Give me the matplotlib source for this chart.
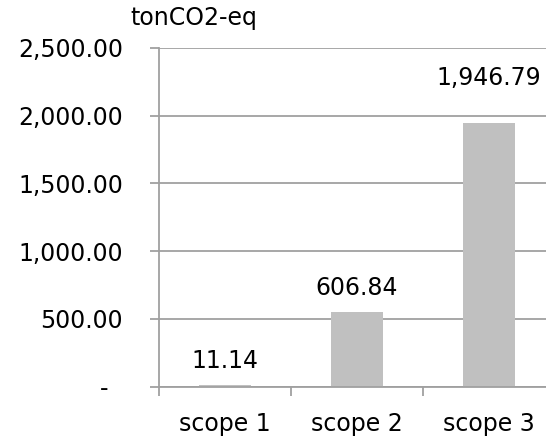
import matplotlib
matplotlib.use('Agg')
import matplotlib.pyplot as plt
from matplotlib.ticker import FixedLocator, FuncFormatter

# data
categories = ['scope 1', 'scope 2', 'scope 3']
bar_values = [11.14, 550.0, 1946.79]          # drawn bar heights
label_texts = ['11.14', '606.84', '1,946.79']  # printed data labels
y_ticks = [0, 500, 1000, 1500, 2000, 2500]

# label baselines above bar tops, in pixels (labels were hand-placed in the source)
label_offsets_px = [17, 17, 38]

c_bar = '#c0c0c0'
c_axis = '#a0a0a0'
fs = 17

fig = plt.figure(figsize=(5.46, 4.43), dpi=100)
ax = fig.add_axes([159 / 546, (443 - 386.7) / 443, 396 / 546, (386.7 - 48) / 443])

x = list(range(len(categories)))
ax.bar(x, bar_values, width=0.394, color=c_bar, zorder=3)

ax.set_xlim(-0.5, len(categories) - 0.5)
ax.set_ylim(0, 2500)

# y axis
ax.yaxis.set_major_locator(FixedLocator(y_ticks))
ax.yaxis.set_major_formatter(FuncFormatter(lambda v, p: '-  ' if v == 0 else f'{v:,.2f}'))
ax.tick_params(axis='y', length=6.5, width=1.3, color=c_axis, pad=19.4, labelsize=fs)
ax.grid(axis='y', color=c_axis, lw=1.3, zorder=1)

# x axis: labels at centres, tick marks at category boundaries
ax.set_xticks(x)
ax.set_xticklabels(categories)
ax.set_xticks([i - 0.5 for i in x], minor=True)
ax.tick_params(axis='x', which='major', length=0, pad=18, labelsize=fs)
ax.tick_params(axis='x', which='minor', length=6.5, width=1.3, color=c_axis)

for s in ['top', 'right']:
    ax.spines[s].set_visible(False)
for s in ['left', 'bottom']:
    ax.spines[s].set_color(c_axis)
    ax.spines[s].set_linewidth(1.3)
ax.spines['bottom'].set_zorder(4)

for xi, v, t, off in zip(x, bar_values, label_texts, label_offsets_px):
    ax.annotate(t, xy=(xi, v), xytext=(0, off * 0.72), textcoords='offset points',
                ha='center', va='baseline', fontsize=fs)

fig.text(130 / 546, 1 - 25 / 443, 'tonCO2-eq', ha='left', va='baseline', fontsize=fs)

fig.savefig('out.png', dpi=100)
